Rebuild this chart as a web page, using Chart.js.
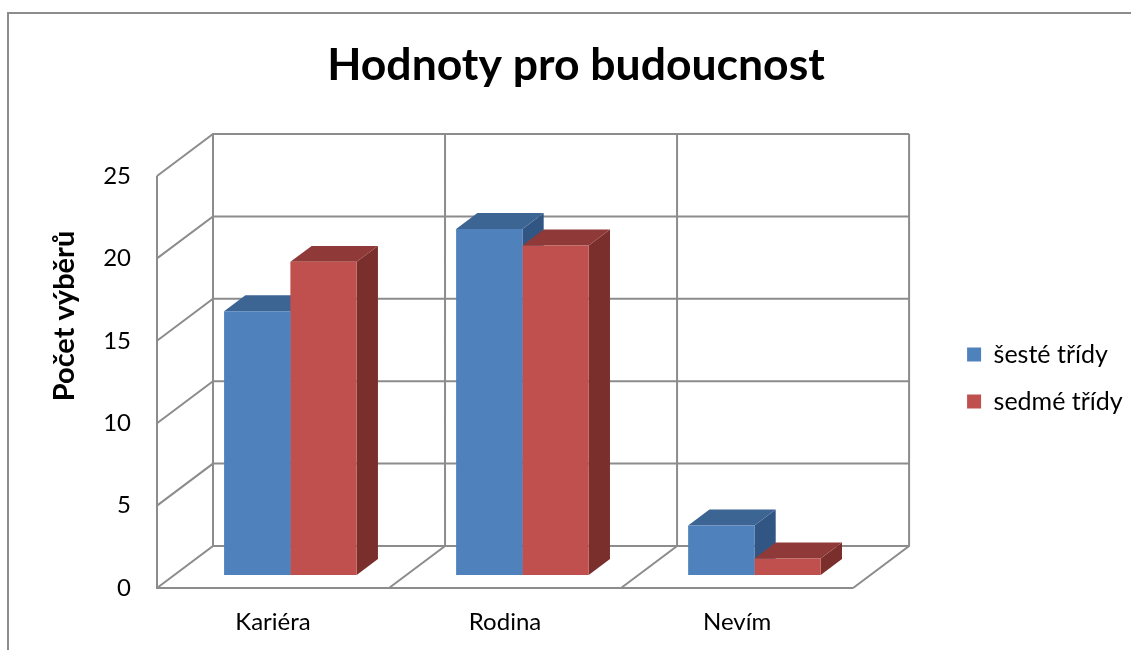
<!DOCTYPE html>
<html><head><meta charset="utf-8">
<script src="https://cdn.jsdelivr.net/npm/chart.js@4"></script>
<style>
html,body{margin:0;padding:0;background:#fff;overflow:hidden;width:1131px;height:650px;}
#frame{position:absolute;left:7px;top:12px;width:1200px;height:700px;border:2px solid #8c8c8c;box-sizing:border-box;}
#wrap{position:absolute;left:0;top:0;width:1131px;height:650px;}
</style></head><body>
<div id="frame"></div>
<div id="wrap"><canvas id="c" width="1131" height="650"></canvas></div>
<script>
// ---- data ----
const categories = ['Kariéra', 'Rodina', 'Nevím'];
const seriesNames = ['šesté třídy', 'sedmé třídy'];
const sesteTridy = [16, 21, 3];
const sedmeTridy = [19, 20, 1];
const yTicks = [0, 5, 10, 15, 20, 25];
const chartTitle = 'Hodnoty pro budoucnost';
const yAxisTitle = 'Počet výběrů';

// ---- style ----
const FONT = 'Lato';
const TICK_SIZE = 24, LEGEND_SIZE = 25, TITLE_SIZE = 44.5, YTITLE_SIZE = 29;
const frontColors = ['#4F81BD', '#C0504D'];
const topColors = ['#3C6594', '#8F3A38'];
const sideColors = ['#325683', '#7A2F2D'];
const GRID = '#8c8c8c';
const DX = 56, DY = -42;        // depth projection of the 3D box
const F0 = 0.31, F1 = 0.69;     // bars occupy this depth range

// layout targets
const PLOT_LEFT = 157, PLOT_RIGHT = 850, PLOT_TOP = 176, PLOT_BOTTOM = 588;
const LEGEND_X = 964, LEGEND_Y = 342, TITLE_CX = 576, TITLE_CY = 66, LEGEND_PAD = 22;

const mctx = document.createElement('canvas').getContext('2d');
mctx.font = LEGEND_SIZE + 'px ' + FONT;
const maxText = Math.max(...seriesNames.map(s => mctx.measureText(s).width));
const itemWidth = 14 + LEGEND_SIZE / 2 + maxText;
const padR = Math.max(0, 1131 - LEGEND_X - itemWidth - 10);
const padL = 2 * TITLE_CX - 1131 + padR;
const rightAxisW = LEGEND_X - LEGEND_PAD - PLOT_RIGHT;
const titleLH = TITLE_SIZE * 1.2;
const titlePadTop = TITLE_CY - titleLH / 2;
const titlePadBottom = PLOT_TOP - titlePadTop - titleLH;
const legendSpacer = LEGEND_Y - LEGEND_PAD;   // legend box is full height, starting at 0

const threeD = {
  id: 'threeD',
  beforeDatasetsDraw(chart) {
    const { ctx, scales: { x, y } } = chart;
    const x0 = x.left, x1 = x.right;
    const yb = y.getPixelForValue(y.min), yt = y.getPixelForValue(y.max);
    ctx.save();
    ctx.strokeStyle = GRID; ctx.lineWidth = 2;
    ctx.beginPath();
    y.ticks.forEach(t => {
      const py = y.getPixelForValue(t.value);
      ctx.moveTo(x0, py); ctx.lineTo(x0 + DX, py + DY); ctx.lineTo(x1 + DX, py + DY);
    });
    for (let k = 0; k <= categories.length; k++) {
      const px = x.getPixelForValue(k - 0.5);
      ctx.moveTo(px, yb); ctx.lineTo(px + DX, yb + DY); ctx.lineTo(px + DX, yt + DY);
    }
    ctx.moveTo(x0, yt); ctx.lineTo(x0, yb); ctx.lineTo(x1, yb);
    ctx.stroke();
    ctx.restore();

    ctx.save();
    ctx.translate(F0 * DX, F0 * DY);
    const ddx = (F1 - F0) * DX, ddy = (F1 - F0) * DY;
    for (let i = 0; i < categories.length; i++) {
      for (let d = 0; d < chart.data.datasets.length; d++) {
        const el = chart.getDatasetMeta(d).data[i];
        const p = el.getProps(['x', 'y', 'base', 'width'], true);
        const l = p.x - p.width / 2, r = p.x + p.width / 2;
        ctx.fillStyle = sideColors[d];
        ctx.beginPath();
        ctx.moveTo(r, p.y); ctx.lineTo(r + ddx, p.y + ddy); ctx.lineTo(r + ddx, p.base + ddy); ctx.lineTo(r, p.base);
        ctx.closePath(); ctx.fill();
        ctx.fillStyle = topColors[d];
        ctx.beginPath();
        ctx.moveTo(l, p.y); ctx.lineTo(l + ddx, p.y + ddy); ctx.lineTo(r + ddx, p.y + ddy); ctx.lineTo(r, p.y);
        ctx.closePath(); ctx.fill();
      }
    }
  },
  afterDatasetsDraw(chart) {
    chart.ctx.restore();
  },
  afterDraw(chart) {
    const { ctx, chartArea } = chart;
    ctx.save();
    ctx.translate(65, chartArea.top + 140);
    ctx.rotate(-Math.PI / 2);
    ctx.font = 'bold ' + YTITLE_SIZE + 'px ' + FONT;
    ctx.fillStyle = '#000';
    ctx.textAlign = 'center';
    ctx.textBaseline = 'middle';
    ctx.fillText(yAxisTitle, 0, 0);
    ctx.restore();
  }
};

new Chart(document.getElementById('c'), {
  type: 'bar',
  data: {
    labels: categories,
    datasets: [
      { label: seriesNames[0], data: sesteTridy, backgroundColor: frontColors[0], borderWidth: 0, clip: false },
      { label: seriesNames[1], data: sedmeTridy, backgroundColor: frontColors[1], borderWidth: 0, clip: false }
    ]
  },
  options: {
    responsive: false,
    animation: false,
    events: [],
    devicePixelRatio: 1,
    layout: { padding: { left: padL, right: padR, top: 0, bottom: 0 } },
    datasets: { bar: { barPercentage: 1, categoryPercentage: 132 / 231 } },
    scales: {
      x: {
        grid: { display: false, drawTicks: false },
        border: { display: false },
        ticks: { color: '#000', font: { family: FONT, size: TICK_SIZE }, padding: 20 },
        afterFit(s) { s.height = 650 - PLOT_BOTTOM; }
      },
      y: {
        min: yTicks[0], max: yTicks[yTicks.length - 1],
        grid: { display: false, drawTicks: false },
        border: { display: false },
        ticks: { color: '#000', font: { family: FONT, size: TICK_SIZE }, padding: 26 },
        afterBuildTicks(s) { s.ticks = yTicks.map(v => ({ value: v })); },
        afterFit(s) { s.width = PLOT_LEFT - padL; }
      },
      y2: {
        position: 'right', display: true, min: 0, max: 1,
        grid: { display: false, drawTicks: false },
        border: { display: false },
        ticks: { display: false },
        afterFit(s) { s.width = rightAxisW; }
      }
    },
    plugins: {
      tooltip: { enabled: false },
      title: {
        display: true, text: chartTitle, color: '#000',
        font: { family: FONT, size: TITLE_SIZE, weight: 'bold', lineHeight: 1.2 },
        padding: { top: titlePadTop, bottom: titlePadBottom }
      },
      legend: {
        position: 'right', align: 'start',
        title: { display: true, text: ' ', font: { size: 10, lineHeight: 1 }, padding: { top: 0, bottom: legendSpacer - 10 } },
        labels: { boxWidth: 14, boxHeight: 14, padding: LEGEND_PAD, color: '#000', font: { family: FONT, size: LEGEND_SIZE } }
      }
    }
  },
  plugins: [threeD]
});
</script>
</body></html>
